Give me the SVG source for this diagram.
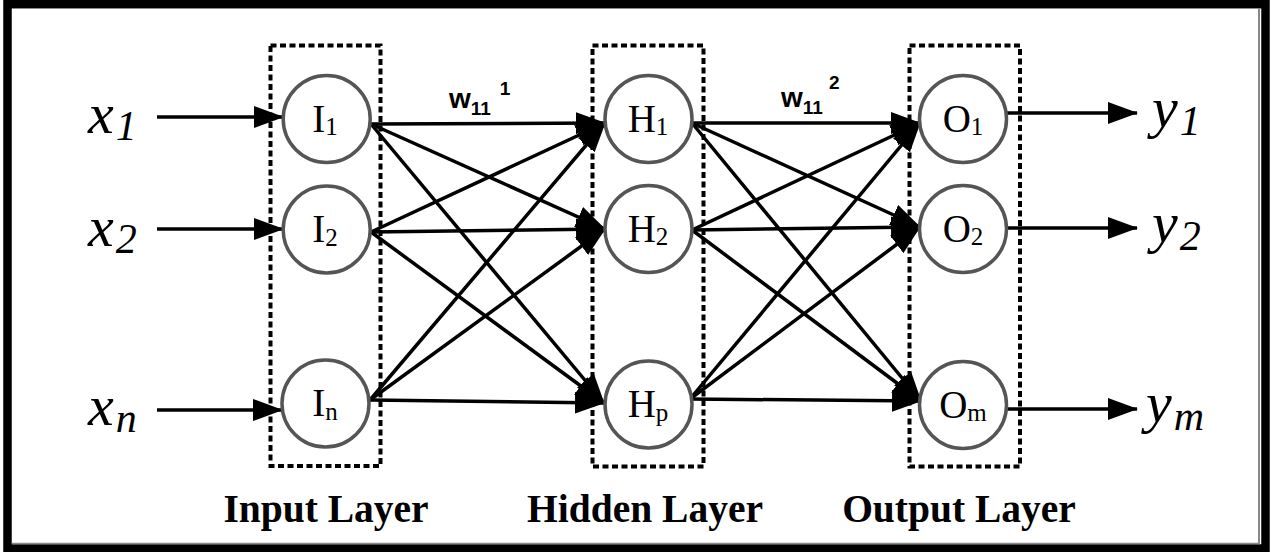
<svg xmlns="http://www.w3.org/2000/svg" width="1271" height="552" viewBox="0 0 1271 552">
<style>
.frame{fill:none;stroke:#000;stroke-width:8.5}
.layer{fill:none;stroke:#000;stroke-width:4;stroke-dasharray:6 3.5}
.node circle{fill:#fff;stroke:#555;stroke-width:3.5}
.nl{font-family:"Liberation Serif",serif;font-size:39px;fill:#000;text-anchor:middle}
.nl tspan{font-size:25px}
.var{font-family:"Liberation Serif",serif;font-style:italic;font-size:58px;fill:#000}
.var tspan{font-size:42px}
.cap{font-family:"Liberation Serif",serif;font-weight:bold;font-size:39.5px;fill:#000;text-anchor:middle}
.w{font-family:"Liberation Sans",sans-serif;font-weight:bold;font-size:28px;fill:#000}
.w .s{font-size:19px}
.conn line{stroke:#000;stroke-width:3.5;marker-end:url(#ah)}
</style>
<defs>
<marker id="ah" viewBox="0 0 30 22" refX="29" refY="11" markerWidth="30" markerHeight="22" markerUnits="userSpaceOnUse" orient="auto">
<path d="M0,0 L30,11 L0,22 z" fill="#000"/>
</marker>
</defs>
<rect width="1271" height="552" fill="#fff"/>
<rect class="frame" x="7.5" y="4.2" width="1258" height="544.3"/>
<line x1="1259" y1="8" x2="1259" y2="544" stroke="#888" stroke-width="2"/>
<line x1="12" y1="543.5" x2="1260" y2="543.5" stroke="#888" stroke-width="1.5"/>

<g id="layer-boxes">
<rect class="layer" x="270.5" y="45.5" width="110" height="420.5"/>
<rect class="layer" x="592.5" y="45.5" width="111" height="421"/>
<rect class="layer" x="909.5" y="45.5" width="110.5" height="421"/>
</g>

<g id="connectors" class="conn">
<line x1="157" y1="117" x2="283" y2="117"/>
<line x1="157" y1="229" x2="283" y2="229"/>
<line x1="157" y1="410" x2="282" y2="410"/>
<line x1="371" y1="124" x2="605" y2="123"/>
<line x1="371" y1="124" x2="605" y2="229"/>
<line x1="371" y1="124" x2="604" y2="403"/>
<line x1="371" y1="232" x2="605" y2="123"/>
<line x1="371" y1="232" x2="605" y2="229"/>
<line x1="371" y1="232" x2="604" y2="403"/>
<line x1="370" y1="400" x2="605" y2="123"/>
<line x1="370" y1="400" x2="605" y2="229"/>
<line x1="370" y1="400" x2="604" y2="403"/>
<line x1="692" y1="123" x2="920" y2="123"/>
<line x1="692" y1="123" x2="920" y2="227"/>
<line x1="692" y1="123" x2="921" y2="401"/>
<line x1="692" y1="230" x2="920" y2="123"/>
<line x1="692" y1="230" x2="920" y2="227"/>
<line x1="692" y1="230" x2="921" y2="401"/>
<line x1="690" y1="399" x2="920" y2="123"/>
<line x1="690" y1="399" x2="920" y2="227"/>
<line x1="690" y1="399" x2="921" y2="401"/>
<line x1="1007" y1="113" x2="1137" y2="113"/>
<line x1="1007" y1="228" x2="1137" y2="228"/>
<line x1="1006" y1="409" x2="1137" y2="409"/>
</g>

<g id="node-I1" class="node"><circle cx="326.7" cy="119" r="43.5"/><text class="nl" x="325" y="131.5">I<tspan dy="3.5">1</tspan></text></g>
<g id="node-I2" class="node"><circle cx="326.7" cy="229.5" r="43.5"/><text class="nl" x="325" y="242">I<tspan dy="3.5">2</tspan></text></g>
<g id="node-In" class="node"><circle cx="325.5" cy="403.5" r="43.5"/><text class="nl" x="325" y="416">I<tspan dy="3.5">n</tspan></text></g>
<g id="node-H1" class="node"><circle cx="648.5" cy="119" r="43.5"/><text class="nl" x="648" y="131.5">H<tspan dy="3.5">1</tspan></text></g>
<g id="node-H2" class="node"><circle cx="648.5" cy="229" r="43.5"/><text class="nl" x="648" y="241.5">H<tspan dy="3.5">2</tspan></text></g>
<g id="node-Hp" class="node"><circle cx="648.5" cy="404.5" r="43.5"/><text class="nl" x="648" y="417">H<tspan dy="3.5">p</tspan></text></g>
<g id="node-O1" class="node"><circle cx="963" cy="119" r="43.5"/><text class="nl" x="963" y="131.5">O<tspan dy="3.5">1</tspan></text></g>
<g id="node-O2" class="node"><circle cx="963" cy="229" r="43.5"/><text class="nl" x="963" y="241.5">O<tspan dy="3.5">2</tspan></text></g>
<g id="node-Om" class="node"><circle cx="963" cy="405" r="43.5"/><text class="nl" x="963" y="417.5">O<tspan dy="3.5">m</tspan></text></g>

<g id="inputs">
<text class="var" x="88" y="133">x<tspan dx="2" dy="7">1</tspan></text>
<text class="var" x="88" y="246">x<tspan dx="2" dy="7">2</tspan></text>
<text class="var" x="88" y="425">x<tspan dx="2" dy="7">n</tspan></text>
</g>
<g id="outputs">
<text class="var" x="1152" y="127">y<tspan dx="2" dy="8">1</tspan></text>
<text class="var" x="1152" y="242">y<tspan dx="2" dy="8">2</tspan></text>
<text class="var" x="1146" y="422">y<tspan dx="2" dy="8">m</tspan></text>
</g>
<g id="weights">
<text class="w" x="449" y="108">w<tspan class="s" dy="7">11</tspan><tspan class="s" dx="10" dy="-20">1</tspan></text>
<text class="w" x="781" y="107">w<tspan class="s" dy="7">11</tspan><tspan class="s" dx="6" dy="-25">2</tspan></text>
</g>
<g id="captions">
<text class="cap" x="326" y="522">Input Layer</text>
<text class="cap" x="645" y="522">Hidden Layer</text>
<text class="cap" x="959" y="522">Output Layer</text>
</g>
</svg>
